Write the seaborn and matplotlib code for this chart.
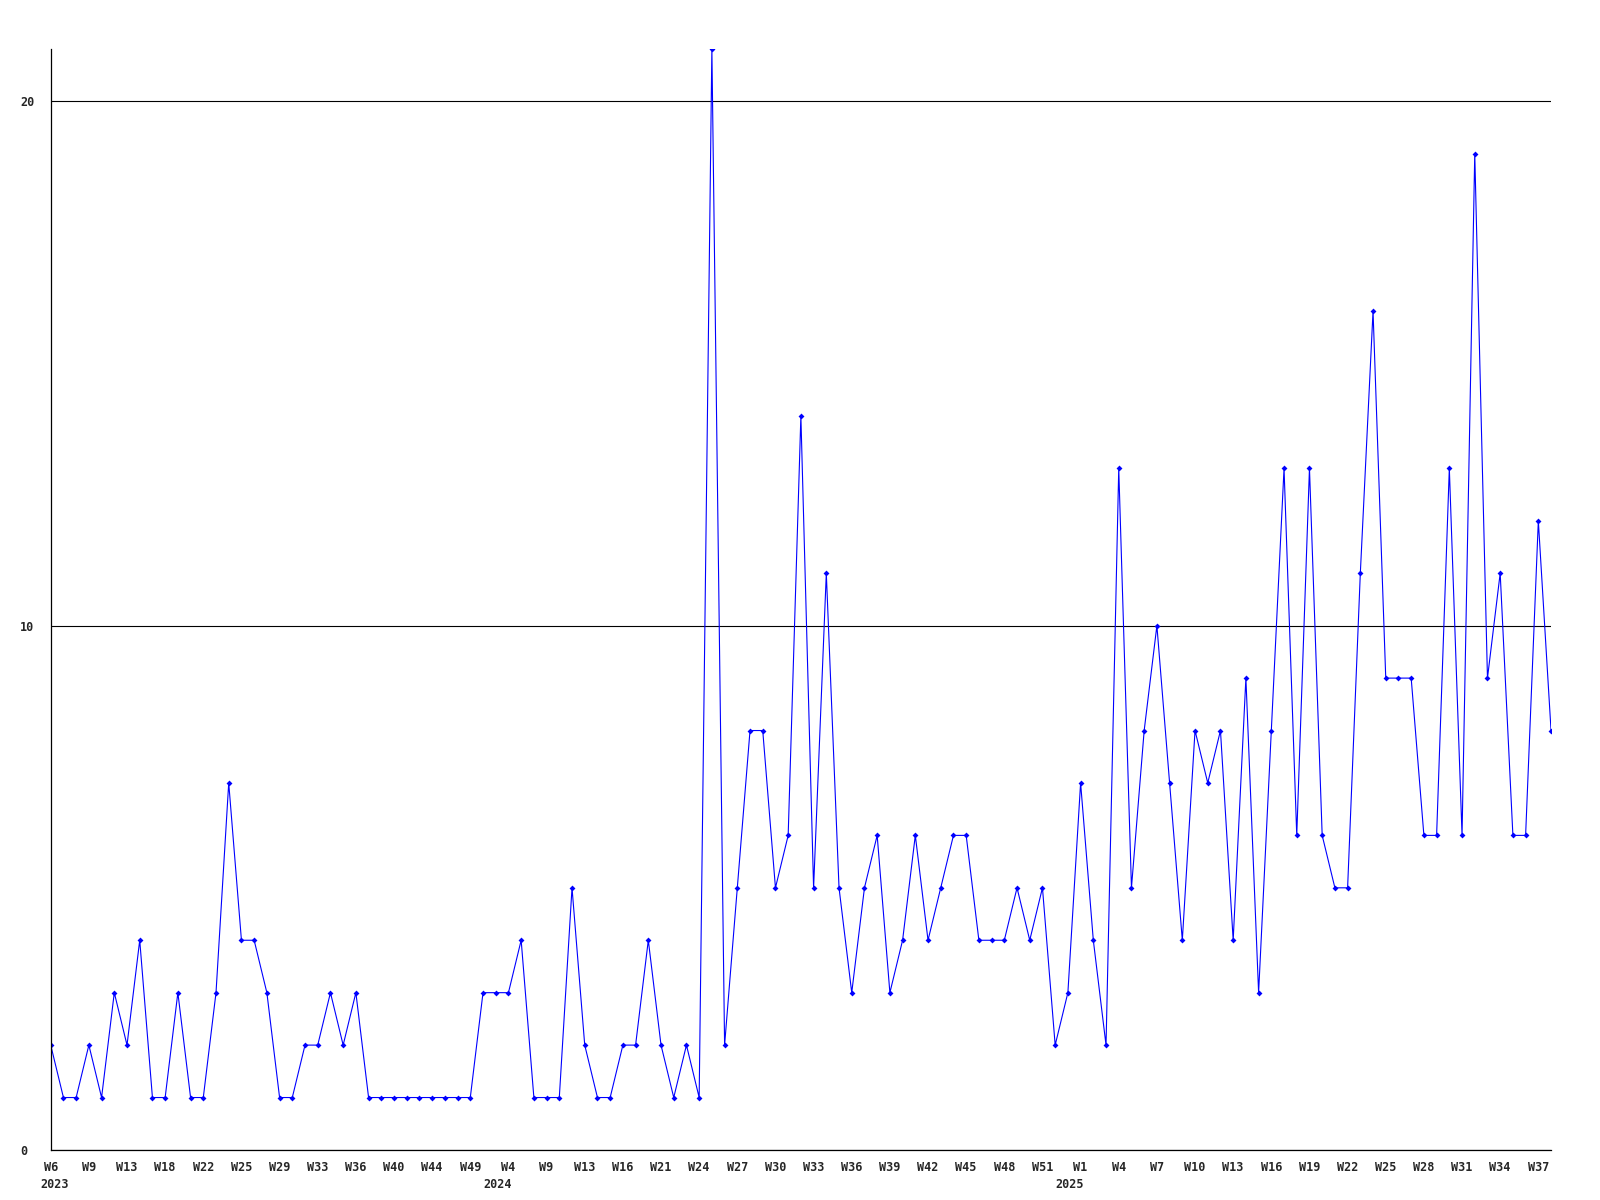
import numpy as np
import pandas as pd
import matplotlib
matplotlib.use('Agg')
import matplotlib.pyplot as plt
import seaborn as sns

# --- data ---
counts = [
    2, 1, 1, 2, 1, 3, 2, 4, 1, 1,
    3, 1, 1, 3, 7, 4, 4, 3, 1, 1,
    2, 2, 3, 2, 3, 1, 1, 1, 1, 1,
    1, 1, 1, 1, 3, 3, 3, 4, 1, 1,
    1, 5, 2, 1, 1, 2, 2, 4, 2, 1,
    2, 1, 21, 2, 5, 8, 8, 5, 6, 14,
    5, 11, 5, 3, 5, 6, 3, 4, 6, 4,
    5, 6, 6, 4, 4, 4, 5, 4, 5, 2,
    3, 7, 4, 2, 13, 5, 8, 10, 7, 4,
    8, 7, 8, 4, 9, 3, 8, 13, 6, 13,
    6, 5, 5, 11, 16, 9, 9, 9, 6, 6,
    13, 6, 19, 9, 11, 6, 6, 12, 8,
]

week_labels = [
    'W6', 'W9', 'W13', 'W18', 'W22', 'W25', 'W29', 'W33', 'W36', 'W40', 'W44', 'W49',
    'W4', 'W9', 'W13', 'W16', 'W21', 'W24', 'W27', 'W30', 'W33', 'W36', 'W39', 'W42',
    'W45', 'W48', 'W51',
    'W1', 'W4', 'W7', 'W10', 'W13', 'W16', 'W19', 'W22', 'W25', 'W28', 'W31', 'W34', 'W37',
]
# year shown under the first label of each year
year_labels = {0: '2023', 12: '2024', 27: '2025'}
label_every = 3

df = pd.DataFrame({'idx': np.arange(len(counts)), 'count': counts})

# --- plot ---
sns.set_style('white')
plt.rcParams['font.family'] = ['DejaVu Sans Mono']

fig = plt.figure(figsize=(16, 12), dpi=100)
ax = fig.add_axes([0.0317, 0.0417, 0.9377, 0.9175])

sns.lineplot(data=df, x='idx', y='count', ax=ax, color='#0000ff', linewidth=0.8,
             marker='D', markersize=3, markeredgewidth=0, markerfacecolor='#0000ff')

ax.set_xlim(0, len(counts) - 1)
ax.set_ylim(0, max(counts))
ax.set_xlabel('')
ax.set_ylabel('')

ticks = np.arange(0, len(counts), label_every)[:len(week_labels)]
ax.set_xticks(ticks)
ax.set_xticklabels(week_labels, fontsize=8.5, fontweight='bold')

# year row under the week labels
for i, yr in year_labels.items():
    if i == 0:
        ha, dx = 'left', -7.5
    else:
        ha, dx = 'right', 2.5
    ax.annotate(yr, xy=(ticks[i], 0), xycoords=('data', 'axes fraction'),
                xytext=(dx, -20), textcoords='offset points',
                ha=ha, va='top', fontsize=8.5, fontweight='bold')

ax.set_yticks([0, 10, 20])
ax.set_yticklabels(['0', '10', '20'], fontsize=8.5, fontweight='bold')
for lab in ax.get_yticklabels():
    lab.set_horizontalalignment('left')

ax.tick_params(axis='both', length=0)
ax.tick_params(axis='y', pad=22)
ax.tick_params(axis='x', pad=8)

ax.yaxis.grid(True, color='black', linewidth=0.8)
ax.xaxis.grid(False)
sns.despine(ax=ax)
for s in ['left', 'bottom']:
    ax.spines[s].set_color('black')
    ax.spines[s].set_linewidth(0.9)

fig.savefig('out.png', dpi=100, facecolor='white')
